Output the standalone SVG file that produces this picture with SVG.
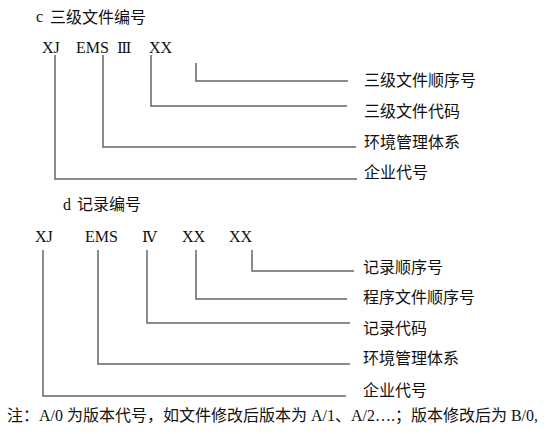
<svg xmlns="http://www.w3.org/2000/svg" width="548" height="434" viewBox="0 0 548 434">
<style>
.t{font-family:"Liberation Serif","Noto Sans CJK SC",serif;font-size:16px;fill:#111}
.r{font-family:"DejaVu Serif","Liberation Serif","Noto Sans CJK SC",serif;font-size:15px;fill:#111}
.c{font-family:"Noto Sans CJK SC",sans-serif;font-size:16px;fill:#111}
.l{fill:none;stroke:#666;stroke-width:1.5}
</style>
<rect width="548" height="434" fill="#fff"/>
<g id="title-c"><text class="t" x="36" y="22">c</text><text class="c" x="50" y="22.5">三级文件编号</text></g>
<g id="code-c">
<text class="t" x="42" y="53">XJ</text>
<text class="t" x="76" y="53">EMS</text>
<text class="r" x="117" y="53">Ⅲ</text>
<text class="t" x="149" y="53">XX</text>
</g>
<g id="labels-c">
<text class="c" x="364" y="85.5">三级文件顺序号</text>
<text class="c" x="364" y="117">三级文件代码</text>
<text class="c" x="364" y="148">环境管理体系</text>
<text class="c" x="364" y="178">企业代号</text>
</g>
<g id="title-d"><text class="t" x="63" y="210">d</text><text class="c" x="77" y="210">记录编号</text></g>
<g id="code-d">
<text class="t" x="35" y="242">XJ</text>
<text class="t" x="85" y="242">EMS</text>
<text class="r" x="142" y="242">Ⅳ</text>
<text class="t" x="182" y="242">XX</text>
<text class="t" x="229" y="242">XX</text>
</g>
<g id="labels-d">
<text class="c" x="363" y="273">记录顺序号</text>
<text class="c" x="363" y="303">程序文件顺序号</text>
<text class="c" x="363" y="334">记录代码</text>
<text class="c" x="363" y="364">环境管理体系</text>
<text class="c" x="363" y="396">企业代号</text>
</g>
<g id="connectors">
<polyline class="l" points="196,63 196,81 348,81"/>
<polyline class="l" points="151,55 151,106 347,106"/>
<polyline class="l" points="103,55 103,147 356,147"/>
<polyline class="l" points="55,55 55,179 357,179"/>
<polyline class="l" points="252,250 252,271 354,271"/>
<polyline class="l" points="196,250 196,299 347,299"/>
<polyline class="l" points="147,250 147,323 350,323"/>
<polyline class="l" points="98,250 98,364 350,364"/>
<polyline class="l" points="43,250 43,396 346,396"/>
</g>
<g id="note"><text class="t" x="7" y="421" textLength="531" lengthAdjust="spacing">注：A/0 为版本代号，如文件修改后版本为 A/1、A/2….；版本修改后为 B/0,</text></g>
</svg>
